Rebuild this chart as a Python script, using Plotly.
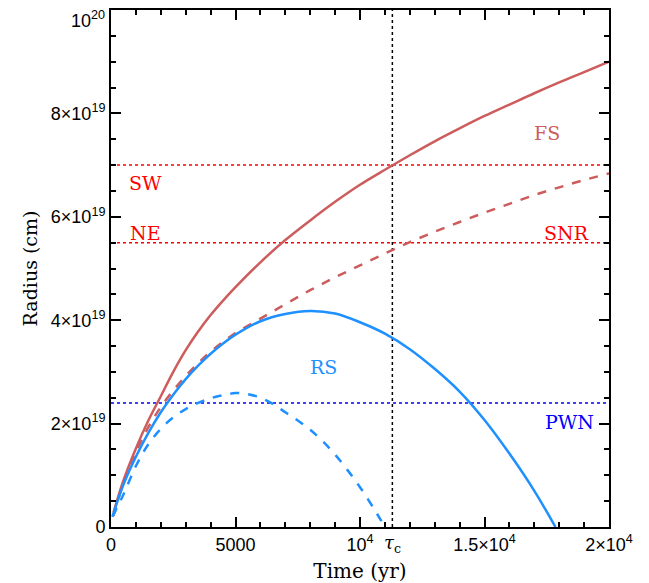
import plotly.graph_objects as go

# radii in units of 1e19 cm, time in yr
t_fs = [100, 500, 1000, 1500, 2000, 2500, 3000, 3500, 4000, 4500, 5000, 6000, 7000, 8000,
        9000, 10000, 11000, 12000, 13000, 14000, 15000, 16000, 17000, 18000, 19000, 20000]
r_fs = [0.28, 0.9, 1.52, 2.06, 2.53, 3.0, 3.42, 3.78, 4.1, 4.38, 4.64, 5.12, 5.55, 5.93,
        6.29, 6.62, 6.91, 7.19, 7.46, 7.71, 7.95, 8.17, 8.39, 8.6, 8.8, 9.0]

t_snr = [100, 500, 1000, 1500, 2000, 2500, 3000, 3500, 4000, 4500, 5000, 6000, 7000, 8000,
         9000, 10000, 11000, 12000, 13000, 14000, 15000, 16000, 17000, 18000, 19000, 20000]
r_snr = [0.22, 0.86, 1.45, 1.93, 2.32, 2.64, 2.92, 3.17, 3.39, 3.58, 3.75, 4.03, 4.31, 4.58,
         4.83, 5.06, 5.29, 5.51, 5.71, 5.9, 6.08, 6.25, 6.42, 6.57, 6.71, 6.84]

t_rs = [60, 500, 1000, 1500, 2000, 2500, 3000, 3500, 4000, 4500, 5000, 6000, 7000, 8000,
        9000, 10000, 11000, 12000, 13000, 14000, 15000, 16000, 17000, 17850]
r_rs = [0.2, 0.82, 1.36, 1.82, 2.22, 2.56, 2.86, 3.12, 3.35, 3.55, 3.72, 3.98, 4.12, 4.18,
        4.13, 3.96, 3.74, 3.44, 3.06, 2.62, 2.07, 1.42, 0.7, 0.0]

t_pwn = [60, 500, 1000, 1500, 2000, 2500, 3000, 3500, 4000, 4500, 5000, 5500, 6000, 6500,
         7000, 7500, 8000, 8500, 9000, 9500, 10000, 10500, 11000]
r_pwn = [0.2, 0.63, 1.18, 1.6, 1.9, 2.12, 2.28, 2.4, 2.49, 2.55, 2.59, 2.57, 2.5, 2.38,
         2.22, 2.06, 1.88, 1.66, 1.4, 1.1, 0.77, 0.4, 0.0]

r_sw = 7.0
r_ne = 5.5
r_pwn_obs = 2.4
tau_c = 11300

x_ticks = [0, 5000, 10000, 15000, 20000]
x_text = ["0", "5000", "10<sup>4</sup>", "1.5×10<sup>4</sup>", "2×10<sup>4</sup>"]
y_ticks = [0, 2, 4, 6, 8, 10]
# top label is drawn as an annotation so it is not clipped at the page edge
y_text = ["0", "2×10<sup>19</sup>", "4×10<sup>19</sup>", "6×10<sup>19</sup>",
          "8×10<sup>19</sup>", ""]
y_top_text = "10<sup>20</sup>"

RED = "#cd5c5c"
BLUE = "#1e90ff"
SERIF = "DejaVu Serif"
SANS = "Liberation Sans"

fig = go.Figure()

# horizontal reference levels and tau_c
for lvl, col in [(r_sw, "red"), (r_ne, "red"), (r_pwn_obs, "blue")]:
    fig.add_trace(go.Scatter(x=[0, 20000], y=[lvl, lvl], mode="lines",
                             line=dict(color=col, width=1.5, dash="dot")))
fig.add_trace(go.Scatter(x=[tau_c, tau_c], y=[0, 10], mode="lines",
                         line=dict(color="black", width=1.5, dash="dot")))

fig.add_trace(go.Scatter(x=t_fs, y=r_fs, mode="lines", line=dict(color=RED, width=2.5, shape="spline")))
fig.add_trace(go.Scatter(x=t_snr, y=r_snr, mode="lines",
                         line=dict(color=RED, width=2.5, dash="dash", shape="spline")))
fig.add_trace(go.Scatter(x=t_rs, y=r_rs, mode="lines", line=dict(color=BLUE, width=2.5, shape="spline")))
fig.add_trace(go.Scatter(x=t_pwn, y=r_pwn, mode="lines",
                         line=dict(color=BLUE, width=2.5, dash="dash", shape="spline")))

labels = [
    (1370, 6.65, "SW", "red"),
    (1370, 5.69, "NE", "red"),
    (17500, 7.62, "FS", RED),
    (18300, 5.69, "SNR", "red"),
    (8550, 3.09, "RS", BLUE),
    (18400, 2.03, "PWN", "blue"),
]
for x, y, txt, col in labels:
    fig.add_annotation(x=x, y=y, text=txt, showarrow=False,
                       font=dict(family=SERIF, size=19, color=col))

fig.add_annotation(x=tau_c, y=0, yshift=-17, text="<i>τ</i><sub>c</sub>", showarrow=False,
                   font=dict(family=SERIF, size=18, color="black"))

fig.add_annotation(x=0, y=10, xanchor="right", yanchor="top", xshift=-4, yshift=4,
                   text=y_top_text, showarrow=False,
                   font=dict(family=SANS, size=18, color="black"))

axis_common = dict(showgrid=False, zeroline=False, showline=True, linecolor="black",
                   linewidth=2, mirror="allticks", ticks="inside", ticklen=10,
                   tickwidth=1.5, tickcolor="black", automargin=False,
                   tickfont=dict(family=SANS, size=18, color="black"))

fig.update_xaxes(range=[0, 20000], tickmode="array", tickvals=x_ticks, ticktext=x_text,
                 minor=dict(dtick=1000, ticks="inside", ticklen=5, tickcolor="black", tickwidth=1.5),
                 title=dict(text="Time (yr)", font=dict(family=SERIF, size=20, color="black"),
                            standoff=10),
                 **axis_common)
fig.update_yaxes(range=[0, 10], tickmode="array", tickvals=y_ticks, ticktext=y_text,
                 minor=dict(dtick=0.5, ticks="inside", ticklen=5, tickcolor="black", tickwidth=1.5),
                 title=dict(text="Radius (cm)", font=dict(family=SERIF, size=19, color="black"),
                            standoff=8),
                 **axis_common)

# page body adds an 8px offset, so margins are trimmed to land the frame where the reference has it
fig.update_layout(width=649, height=583, showlegend=False,
                  plot_bgcolor="white", paper_bgcolor="white",
                  margin=dict(l=103, r=48, t=2, b=64))

fig.write_html("out.html")
